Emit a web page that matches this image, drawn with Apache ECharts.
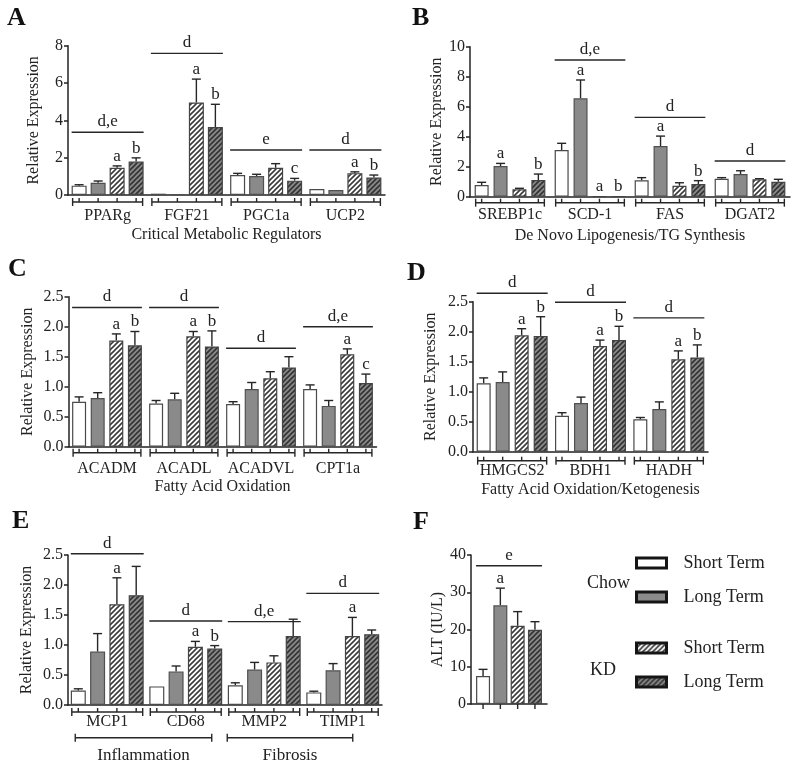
<!DOCTYPE html>
<html>
<head>
<meta charset="utf-8">
<script src="https://cdn.jsdelivr.net/npm/echarts@6/dist/echarts.min.js"></script>
<style>
  html, body { margin: 0; background: #fff; }
  #chart { width: 800px; height: 768px; }
</style>
</head>
<body>
<div id="chart"></div>
<script>
// groups (same order in every panel)
const groupNames = ['Chow Short Term', 'Chow Long Term', 'KD Short Term', 'KD Long Term'];

// A - critical metabolic regulators
const aCats = ['PPARg', 'FGF21', 'PGC1a', 'UCP2'];
const aMean = [[0.5, 0.07, 1.07, 0.32], [0.65, 0.04, 1.02, 0.27], [1.46, 4.96, 1.46, 1.17], [1.79, 3.64, 0.77, 0.94]];
const aErr = [[0.05, 0.01, 0.09, 0.03], [0.1, 0.01, 0.09, 0.02], [0.1, 1.25, 0.22, 0.07], [0.2, 1.22, 0.12, 0.13]];
const aMarks = [['', '', '', ''], ['', '', '', ''], ['a', 'a', '', 'a'], ['b', 'b', 'c', 'b']];
const aSig = [3.36, 7.59, 2.41, 2.41];
const aSigText = ['d,e', 'd', 'e', 'd'];

// B - de novo lipogenesis
const bCats = ['SREBP1c', 'SCD-1', 'FAS', 'DGAT2'];
const bMean = [[0.78, 3.11, 1.09, 1.2], [2.04, 6.56, 3.38, 1.51], [0.49, 0.03, 0.73, 1.16], [1.11, 0.03, 0.84, 1.0]];
const bErr = [[0.18, 0.45, 0.18, 0.07], [0.18, 1.22, 0.66, 0.22], [0.07, 0, 0.2, 0.04], [0.4, 0, 0.23, 0.16]];
const bMarks = [['', '', '', ''], ['a', 'a', 'a', ''], ['', 'a', '', ''], ['b', 'b', 'b', '']];
const bSig = [null, 9.11, 5.29, 2.38];
const bSigText = ['', 'd,e', 'd', 'd'];

// C - fatty acid oxidation
const cCats = ['ACADM', 'ACADL', 'ACADVL', 'CPT1a'];
const cMean = [[0.75, 0.72, 0.71, 0.96], [0.81, 0.79, 0.96, 0.68], [1.77, 1.84, 1.14, 1.54], [1.69, 1.67, 1.32, 1.06]];
const cErr = [[0.08, 0.05, 0.04, 0.07], [0.09, 0.1, 0.11, 0.09], [0.11, 0.08, 0.11, 0.09], [0.23, 0.26, 0.18, 0.15]];
const cMarks = [['', '', '', ''], ['', '', '', ''], ['a', 'a', '', 'a'], ['b', 'b', '', 'c']];
const cSig = [2.32, 2.32, 1.64, 2.0];
const cSigText = ['d', 'd', 'd', 'd,e'];

// D - ketogenesis
const dCats = ['HMGCS2', 'BDH1', 'HADH'];
const dMean = [[1.14, 0.6, 0.54], [1.16, 0.81, 0.71], [1.94, 1.76, 1.54], [1.93, 1.86, 1.57]];
const dErr = [[0.09, 0.05, 0.03], [0.17, 0.1, 0.12], [0.11, 0.1, 0.14], [0.32, 0.23, 0.21]];
const dMarks = [['', '', ''], ['', '', ''], ['a', 'a', 'a'], ['b', 'b', 'b']];
const dSig = [2.64, 2.49, 2.23];
const dSigText = ['d', 'd', 'd'];

// E - inflammation / fibrosis
const eCats = ['MCP1', 'CD68', 'MMP2', 'TIMP1'];
const eMean = [[0.24, 0.31, 0.33, 0.21], [0.89, 0.56, 0.59, 0.58], [1.68, 0.97, 0.71, 1.15], [1.83, 0.94, 1.15, 1.18]];
const eErr = [[0.03, 0.005, 0.04, 0.02], [0.3, 0.09, 0.12, 0.11], [0.44, 0.09, 0.11, 0.31], [0.48, 0.05, 0.28, 0.07]];
const eMarks = [['', '', '', ''], ['', '', '', ''], ['a', 'a', '', 'a'], ['', 'b', '', '']];
const eSig = [2.52, 1.4, 1.39, 1.86];
const eSigText = ['d', 'd', 'd,e', 'd'];
const eTiers = ['Inflammation', 'Fibrosis'];
const eTierCats = [[0, 1], [2, 3]];

// F - ALT
const fCats = ['ALT'];
const fMean = [[7.5], [26.5], [21.0], [19.9]];
const fErr = [[1.8], [4.6], [3.8], [2.2]];
const fMarks = [[''], ['a'], [''], ['']];
const fSig = [37.1];
const fSigText = ['e'];

const INK = '#222';
const FONT = '"Liberation Serif", "Times New Roman", serif';

function hatch(bg, fg) {
    const s = 5;
    const cv = document.createElement('canvas');
    cv.width = cv.height = s;
    const ctx = cv.getContext('2d');
    ctx.fillStyle = bg;
    ctx.fillRect(0, 0, s, s);
    ctx.strokeStyle = fg;
    ctx.lineWidth = 1.6;
    ctx.beginPath();
    ctx.moveTo(0, s); ctx.lineTo(s, 0);
    ctx.moveTo(-1, 1); ctx.lineTo(1, -1);
    ctx.moveTo(s - 1, s + 1); ctx.lineTo(s + 1, s - 1);
    ctx.stroke();
    return { image: cv, repeat: 'repeat' };
}

const barStyles = [
    { color: '#ffffff', borderColor: '#4a4a4a', borderWidth: 1.2 },
    { color: '#8a8a8a', borderColor: '#505050', borderWidth: 1.2 },
    { color: hatch('#ffffff', '#3a3a3a'), borderColor: '#444', borderWidth: 1.2 },
    { color: hatch('#8a8a8a', '#333333'), borderColor: '#444', borderWidth: 1.2 }
];

const panels = [
    { cats: aCats, mean: aMean, err: aErr, marks: aMarks, sig: aSig, sigText: aSigText,
      box: [68, 45.7, 317, 149.3], yMax: 8, yStep: 2, dec: 0, barW: 15, gap: 4,
      yName: 'Relative Expression', yNameGap: 26, xName: 'Critical Metabolic Regulators', xNameGap: 32,
      labelMargin: 13, bracket: 7 },
    { cats: bCats, mean: bMean, err: bErr, marks: bMarks, sig: bSig, sigText: bSigText,
      box: [470, 46.7, 320, 150], yMax: 10, yStep: 2, dec: 0, barW: 14, gap: 4.9,
      yName: 'Relative Expression', yNameGap: 23, xName: 'De Novo Lipogenesis/TG Synthesis', xNameGap: 31,
      labelMargin: 10, bracket: 6 },
    { cats: cCats, mean: cMean, err: cErr, marks: cMarks, sig: cSig, sigText: cSigText,
      box: [68.5, 296.7, 308, 150], yMax: 2.5, yStep: 0.5, dec: 1, barW: 14, gap: 4.6,
      yName: 'Relative Expression', yNameGap: 33, xName: 'Fatty Acid Oxidation', xNameGap: 32,
      labelMargin: 14, bracket: 6 },
    { cats: dCats, mean: dMean, err: dErr, marks: dMarks, sig: dSig, sigText: dSigText,
      box: [473, 301.7, 235, 150], yMax: 2.5, yStep: 0.5, dec: 1, barW: 14, gap: 5,
      yName: 'Relative Expression', yNameGap: 34, xName: 'Fatty Acid Oxidation/Ketogenesis', xNameGap: 30,
      labelMargin: 11, bracket: 9 },
    { cats: eCats, mean: eMean, err: eErr, marks: eMarks, sig: eSig, sigText: eSigText,
      box: [68, 555, 314, 150], yMax: 2.5, yStep: 0.5, dec: 1, barW: 15, gap: 4.3,
      yName: 'Relative Expression', yNameGap: 33, xName: '', xNameGap: 30,
      labelMargin: 9, bracket: 7 },
    { cats: fCats, mean: fMean, err: fErr, marks: fMarks, sig: fSig, sigText: fSigText,
      box: [471, 555, 76, 149], yMax: 40, yStep: 10, dec: 0, barW: 14, gap: 3.3,
      yName: 'ALT (IU/L)', yNameGap: 25, xName: '', xNameGap: 30,
      labelMargin: 10, bracket: 0, hideLabels: true }
];

function seg(x1, y1, x2, y2) {
    return { type: 'line', shape: { x1, y1, x2, y2 }, style: { stroke: '#262626', lineWidth: 1.4 } };
}
function txt(text, x, y, va) {
    return {
        type: 'text',
        style: { text, x, y, fill: INK, font: '17px ' + FONT,
                 textAlign: 'center', textVerticalAlign: va, align: 'center', verticalAlign: va }
    };
}

function errRender(k, p) {
    return function (params, api) {
        const c = api.value(0), m = api.value(1), e = api.value(2);
        const x = api.coord([c, 0])[0] + (k - 1.5) * p.pitch;
        const yb = api.coord([c, m])[1];
        const yt = api.coord([c, m + e])[1];
        const kids = [];
        if (yb - yt > 0.6) {
            kids.push(seg(x, yb, x, yt), seg(x - 4.5, yt, x + 4.5, yt));
        }
        const t = p.marks[k][params.dataIndex];
        if (t) kids.push(txt(t, x, yt - 1, 'bottom'));
        return { type: 'group', children: kids };
    };
}

function sigRender(p) {
    return function (params, api) {
        const c = api.value(0);
        const [cx, y] = api.coord([c, api.value(1)]);
        const hw = 1.5 * p.pitch + p.barW / 2;
        return { type: 'group', children: [
            seg(cx - hw, y, cx + hw, y),
            txt(p.sigText[c], cx, y - 2, 'bottom')
        ] };
    };
}

function bracketRender(p) {
    return function (params, api) {
        const c = api.value(0);
        const [cx, yb] = api.coord([c, 0]);
        const kids = [];
        if (p.bracket) {
            const y = yb + p.bracket;
            const hw = 1.5 * p.pitch + p.barW / 2 - 1;
            kids.push(seg(cx - hw, y, cx + hw, y), seg(cx - hw, y - 4, cx - hw, y + 4), seg(cx + hw, y - 4, cx + hw, y + 4));
            for (let k = 0; k < 4; k++) {
                const x = cx + (k - 1.5) * p.pitch;
                kids.push(seg(x, y - 4, x, y));
            }
        } else {
            for (let k = 0; k < 4; k++) {
                const x = cx + (k - 1.5) * p.pitch;
                kids.push(seg(x, yb, x, yb + 5));
            }
        }
        return { type: 'group', children: kids };
    };
}

// second bracket row under panel E
const eTierPad = [[-32, 26], [-37, 10]];
function tierRender(params, api) {
    const i = params.dataIndex;
    const x0 = api.coord([api.value(0), 0])[0] + eTierPad[i][0];
    const x1 = api.coord([api.value(1), 0])[0] + eTierPad[i][1];
    const y = api.coord([0, 0])[1] + 32.7;
    return { type: 'group', children: [
        seg(x0, y, x1, y), seg(x0, y - 4, x0, y + 4), seg(x1, y - 4, x1, y + 4),
        txt(eTiers[i], (x0 + x1) / 2, y + 9, 'top')
    ] };
}

const grid = [], xAxis = [], yAxis = [], series = [];
const axisLineStyle = { color: INK, width: 1.5 };

panels.forEach((p, i) => {
    p.pitch = p.barW + p.gap;
    grid.push({ left: p.box[0], top: p.box[1], width: p.box[2], height: p.box[3],
                containLabel: false, outerBoundsMode: 'none' });
    xAxis.push({
        type: 'category', gridIndex: i, data: p.cats,
        axisLine: { lineStyle: axisLineStyle },
        axisTick: { show: false },
        axisLabel: { show: !p.hideLabels, interval: 0, fontSize: 16, color: INK, margin: p.labelMargin },
        name: p.xName, nameLocation: 'middle', nameGap: p.xNameGap,
        nameTextStyle: { fontSize: 16, color: INK }
    });
    yAxis.push({
        type: 'value', gridIndex: i, min: 0, max: p.yMax, interval: p.yStep,
        axisLine: { show: true, lineStyle: axisLineStyle },
        axisTick: { show: true, length: 4, lineStyle: axisLineStyle },
        splitLine: { show: false },
        axisLabel: { fontSize: 16, color: INK, margin: 5, formatter: v => v.toFixed(p.dec) },
        name: p.yName, nameLocation: 'middle', nameRotate: 90, nameGap: p.yNameGap,
        nameTextStyle: { fontSize: 16, color: INK }
    });
    for (let k = 0; k < 4; k++) {
        series.push({
            type: 'bar', name: groupNames[k], xAxisIndex: i, yAxisIndex: i,
            data: p.mean[k], barWidth: p.barW, barGap: (p.gap / p.barW * 100) + '%',
            itemStyle: barStyles[k], silent: true
        });
    }
    for (let k = 0; k < 4; k++) {
        series.push({
            type: 'custom', xAxisIndex: i, yAxisIndex: i, clip: false, silent: true,
            data: p.mean[k].map((m, c) => [c, m, p.err[k][c]]),
            renderItem: errRender(k, p)
        });
    }
    series.push({
        type: 'custom', xAxisIndex: i, yAxisIndex: i, clip: false, silent: true,
        data: p.sig.map((v, c) => (v == null ? null : [c, v])).filter(Boolean),
        renderItem: sigRender(p)
    });
    series.push({
        type: 'custom', xAxisIndex: i, yAxisIndex: i, clip: false, silent: true,
        data: p.cats.map((_, c) => [c, 0]),
        renderItem: bracketRender(p)
    });
});

series.push({
    type: 'custom', xAxisIndex: 4, yAxisIndex: 4, clip: false, silent: true,
    data: eTierCats, renderItem: tierRender
});

const legendBase = {
    orient: 'vertical', left: 630, itemWidth: 30, itemHeight: 10, itemGap: 14,
    icon: 'rect', selectedMode: false,
    formatter: n => n.replace(/^(Chow|KD) /, ''),
    textStyle: { fontSize: 18, color: INK, lineHeight: 20, padding: [0, 0, 0, 12] },
    itemStyle: { borderColor: '#151515', borderWidth: 3 }
};

const letters = [['A', 7, 18.5], ['B', 412, 18.5], ['C', 8, 269], ['D', 407, 273.5], ['E', 12, 521.5], ['F', 413, 522]];

const chart = echarts.init(document.getElementById('chart'));
chart.setOption({
    animation: false,
    backgroundColor: '#fff',
    textStyle: { fontFamily: FONT },
    grid, xAxis, yAxis, series,
    legend: [
        Object.assign({}, legendBase, { top: 548, data: ['Chow Short Term', 'Chow Long Term'] }),
        Object.assign({}, legendBase, { top: 633, data: ['KD Short Term', 'KD Long Term'] })
    ],
    graphic: letters.map(([t, x, y]) => ({
        type: 'text', x, y,
        style: { text: t, font: 'bold 26px ' + FONT, fill: '#111', textVerticalAlign: 'middle', verticalAlign: 'middle' }
    })).concat([
        { type: 'text', x: 587, y: 583, style: { text: 'Chow', font: '18px ' + FONT, fill: INK, textVerticalAlign: 'middle', verticalAlign: 'middle' } },
        { type: 'text', x: 590, y: 670, style: { text: 'KD', font: '18px ' + FONT, fill: INK, textVerticalAlign: 'middle', verticalAlign: 'middle' } }
    ])
});
</script>
</body>
</html>
